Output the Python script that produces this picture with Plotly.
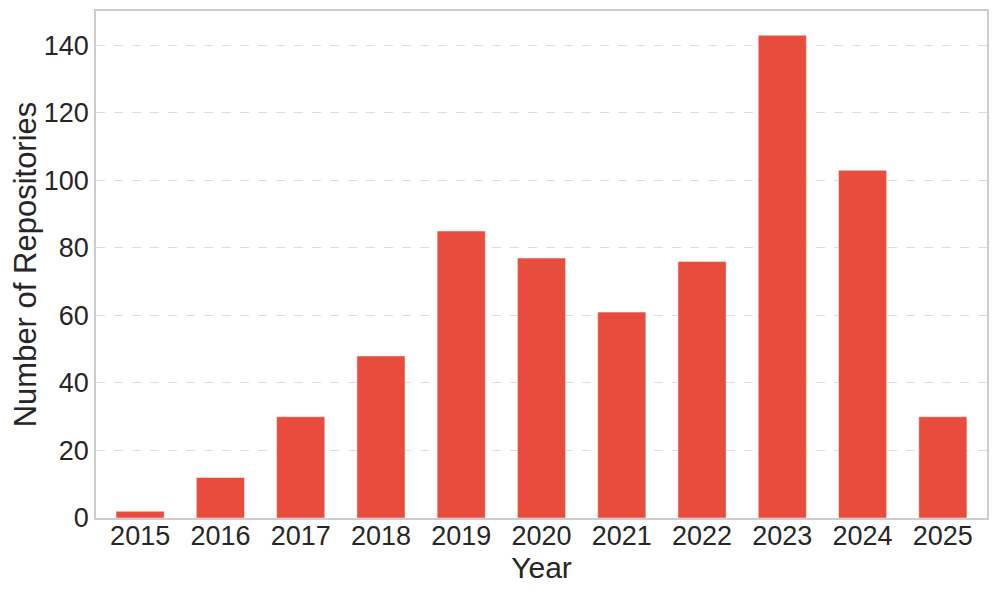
import plotly.graph_objects as go

years = ["2015", "2016", "2017", "2018", "2019", "2020", "2021", "2022", "2023", "2024", "2025"]
repo_counts = [2, 12, 30, 48, 85, 77, 61, 76, 143, 103, 30]
y_ticks = [0, 20, 40, 60, 80, 100, 120, 140]

BAR_COLOR = "#e74c3c"
TEXT_COLOR = "#262626"
GRID_COLOR = "#dddddd"
FRAME_COLOR = "#cccccc"
FONT = "Liberation Sans, Arial, sans-serif"

fig = go.Figure(
    go.Bar(
        x=years,
        y=repo_counts,
        width=0.6,
        marker=dict(color=BAR_COLOR, line=dict(color="rgba(255,255,255,0.6)", width=0.8)),
    )
)

# the page body keeps an 8px margin, so the figure is 8px smaller than the window
fig.update_layout(
    width=989,
    height=585,
    paper_bgcolor="white",
    plot_bgcolor="white",
    font=dict(family=FONT, color=TEXT_COLOR, size=28),
    margin=dict(l=88, r=10, t=1, b=75),
    showlegend=False,
    xaxis=dict(
        type="category",
        range=[-0.55, 10.55],
        showgrid=False,
        showline=True,
        linecolor=FRAME_COLOR,
        linewidth=1.5,
        mirror=True,
        ticks="",
        tickfont=dict(size=27),
        ticklabelstandoff=-7,
        title=dict(text="Year", font=dict(size=30), standoff=4),
    ),
    yaxis=dict(
        range=[0, 150.2],
        tickvals=y_ticks,
        showgrid=True,
        gridcolor=GRID_COLOR,
        griddash="dash",
        gridwidth=1,
        zeroline=False,
        showline=True,
        linecolor=FRAME_COLOR,
        linewidth=1.5,
        mirror=True,
        ticks="",
        tickfont=dict(size=27),
        title=dict(text="Number of Repositories", font=dict(size=31), standoff=6),
    ),
)

fig.write_html("out.html")
